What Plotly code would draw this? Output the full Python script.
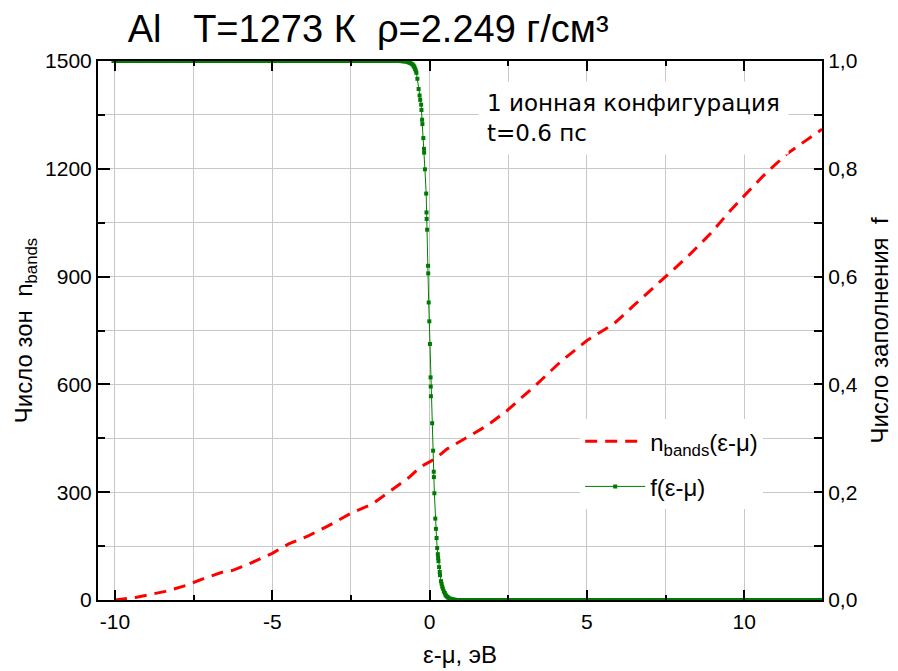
import plotly.graph_objects as go

# ---- data ----
# cumulative number of bands n_bands(eps - mu)
e_nbands = [-10.0, -9.35, -8.4, -7.76, -7.23, -6.6, -6.28, -5.75, -5.0, -4.48, -3.84, -3.21,
            -2.51, -1.83, -1.3, -0.67, -0.3, 0.0, 0.18, 0.55, 1.29, 1.82, 2.46, 3.41, 4.15,
            5.0, 5.42, 5.85, 6.48, 7.51, 8.18, 8.92, 9.56, 10.01, 10.61, 11.36, 12.36, 12.47]
n_bands = [0, 7, 24, 40, 58, 77, 82, 100, 130, 156, 179, 207,
           241, 267, 300, 340, 370, 385, 393, 420, 457, 485, 527, 601, 662,
           722, 745, 768, 819, 901, 954, 1019, 1084, 1126, 1181, 1242, 1305, 1310]

# occupation numbers f(eps - mu): plateau levels below mu (f = 1)
e_f_low = [-10.05, -9.95, -9.85, -9.75, -9.65, -9.55, -9.45, -9.35, -9.25, -9.15,
           -9.05, -8.95, -8.85, -8.75, -8.65, -8.55, -8.45, -8.35, -8.25, -8.15,
           -8.05, -7.95, -7.85, -7.75, -7.65, -7.55, -7.45, -7.35, -7.25, -7.15,
           -7.05, -6.95, -6.85, -6.75, -6.65, -6.55, -6.45, -6.35, -6.25, -6.15,
           -6.05, -5.95, -5.85, -5.75, -5.65, -5.55, -5.45, -5.35, -5.25, -5.15,
           -5.05, -4.95, -4.85, -4.75, -4.65, -4.55, -4.45, -4.35, -4.25, -4.15,
           -4.05, -3.95, -3.85, -3.75, -3.65, -3.55, -3.45, -3.35, -3.25, -3.15,
           -3.05, -2.95, -2.85, -2.75, -2.65, -2.55, -2.45, -2.35, -2.25, -2.15,
           -2.05, -1.95, -1.85, -1.75, -1.65, -1.55, -1.45, -1.35, -1.25, -1.15,
           -1.05, -0.95]
# levels in the Fermi step
e_f_step = [-0.90, -0.85, -0.80, -0.75, -0.70, -0.65, -0.62, -0.58, -0.55, -0.52, -0.50,
            -0.48, -0.46, -0.44, -0.42, -0.39, -0.35, -0.32, -0.30, -0.27, -0.26, -0.24,
            -0.23, -0.20, -0.18, -0.175, -0.15, -0.11, -0.10, -0.095, -0.08, -0.05, -0.045,
            -0.03, -0.01, 0.01, 0.03, 0.035, 0.04, 0.08, 0.11, 0.13, 0.135, 0.15, 0.18,
            0.20, 0.22, 0.24, 0.26, 0.27, 0.28, 0.30, 0.32, 0.33, 0.36, 0.38, 0.40, 0.42,
            0.45, 0.48, 0.50, 0.52, 0.55, 0.58, 0.60, 0.65, 0.68, 0.70, 0.75, 0.80]
f_step = [0.9997, 0.9995, 0.9993, 0.999, 0.998, 0.997, 0.9965, 0.995, 0.994, 0.992, 0.990,
          0.988, 0.985, 0.982, 0.978, 0.967, 0.948, 0.936, 0.928, 0.919, 0.909, 0.891,
          0.883, 0.857, 0.837, 0.830, 0.799, 0.754, 0.719, 0.707, 0.687, 0.620, 0.606,
          0.552, 0.517, 0.475, 0.413, 0.396, 0.378, 0.328, 0.277, 0.238, 0.228, 0.198, 0.151,
          0.132, 0.115, 0.0965, 0.085, 0.078, 0.072, 0.061, 0.052, 0.046, 0.035, 0.030, 0.025, 0.021,
          0.016, 0.013, 0.010, 0.008, 0.0065, 0.005, 0.004, 0.0026, 0.002, 0.0017, 0.001, 0.0007]
# plateau levels above mu (f = 0)
e_f_high = [0.85, 0.95, 1.05, 1.15, 1.25, 1.35, 1.45, 1.55, 1.65, 1.75, 1.85, 1.95,
            2.05, 2.15, 2.25, 2.35, 2.45, 2.55, 2.65, 2.75, 2.85, 2.95,
            3.05, 3.15, 3.25, 3.35, 3.45, 3.55, 3.65, 3.75, 3.85, 3.95,
            4.05, 4.15, 4.25, 4.35, 4.45, 4.55, 4.65, 4.75, 4.85, 4.95,
            5.05, 5.15, 5.25, 5.35, 5.45, 5.55, 5.65, 5.75, 5.85, 5.95,
            6.05, 6.15, 6.25, 6.35, 6.45, 6.55, 6.65, 6.75, 6.85, 6.95,
            7.05, 7.15, 7.25, 7.35, 7.45, 7.55, 7.65, 7.75, 7.85, 7.95,
            8.05, 8.15, 8.25, 8.35, 8.45, 8.55, 8.65, 8.75, 8.85, 8.95,
            9.05, 9.15, 9.25, 9.35, 9.45, 9.55, 9.65, 9.75, 9.85, 9.95,
            10.05, 10.15, 10.25, 10.35, 10.45, 10.55, 10.65, 10.75, 10.85, 10.95,
            11.05, 11.15, 11.25, 11.35, 11.45, 11.55, 11.65, 11.75, 11.85, 11.95,
            12.05, 12.15, 12.25, 12.35, 12.45]

x_ticks = [-10, -5, 0, 5, 10]
x_tick_labels = ["-10", "-5", "0", "5", "10"]
y_ticks = [0, 300, 600, 900, 1200, 1500]
f_ticks = [0.0, 0.2, 0.4, 0.6, 0.8, 1.0]
f_tick_labels = ["0,0", "0,2", "0,4", "0,6", "0,8", "1,0"]

e_f = e_f_low + e_f_step + e_f_high
f_occ = [1.0] * len(e_f_low) + f_step + [0.0] * len(e_f_high)

ARIAL = "Liberation Sans, Arial, sans-serif"
GRID = "#c8c8c8"

fig = go.Figure()
fig.add_trace(go.Scatter(
    x=e_nbands, y=n_bands, name="n<sub>bands</sub>(ε-μ)", mode="lines",
    line=dict(color="#ff0000", width=3, dash="12px,8px"), yaxis="y",
    legendgroup="a"))
fig.add_trace(go.Scatter(
    x=e_f, y=f_occ, name="f(ε-μ)", mode="lines+markers",
    line=dict(color="#008000", width=1),
    marker=dict(symbol="square", size=4, color="#007a00", line=dict(width=0)),
    yaxis="y2", legendgroup="b"))

fig.update_layout(
    width=898, height=671,
    margin=dict(l=90, r=84, t=53, b=79, autoexpand=False),
    paper_bgcolor="white", plot_bgcolor="white",
    font=dict(family=ARIAL, size=21, color="black"),
    title=dict(text="Al\u00a0\u00a0\u00a0T=1273 К\u00a0\u00a0ρ=2.249 г/см³",
               font=dict(family=ARIAL, size=38, color="black"),
               x=0.041, xref="paper", xanchor="left",
               y=0.969, yref="container", yanchor="middle"),
    showlegend=True,
    legend=dict(x=0.666, xanchor="left", y=0.3356, yanchor="top",
                bgcolor="white", borderwidth=0, font=dict(family=ARIAL, size=24),
                itemwidth=60, tracegroupgap=11, traceorder="grouped"),
    xaxis=dict(range=[-10.54, 12.47], tickvals=x_ticks, ticktext=x_tick_labels,
               ticks="inside", ticklen=10, automargin=False,
               tickwidth=2, tickcolor="black", showline=True, linewidth=2, linecolor="black",
               mirror="ticks", showgrid=True, gridcolor=GRID, gridwidth=1, zeroline=False,
               tickfont=dict(size=21), ticklabelstandoff=2,
               minor=dict(dtick=2.5, ticks="inside", ticklen=5, tickwidth=2,
                          tickcolor="black", showgrid=True, gridcolor=GRID, gridwidth=1),
               title=dict(text="ε-μ, эВ", font=dict(size=24), standoff=14)),
    yaxis=dict(range=[0, 1500], tickvals=y_ticks, ticks="inside", ticklen=12, automargin=False,
               tickwidth=2, tickcolor="black", showline=True, linewidth=2, linecolor="black",
               showgrid=True, gridcolor=GRID, gridwidth=1, zeroline=False,
               tickfont=dict(size=21),
               minor=dict(dtick=150, ticks="inside", ticklen=7, tickwidth=2,
                          tickcolor="black", showgrid=True, gridcolor=GRID, gridwidth=1),
               title=dict(text="Число зон\u00a0\u00a0n<sub>bands</sub>", font=dict(size=24),
                          standoff=6)),
    yaxis2=dict(range=[0, 1], overlaying="y", side="right", tickvals=f_ticks, automargin=False,
                ticktext=f_tick_labels, ticks="inside", ticklen=8, tickwidth=2,
                tickcolor="black", showline=True, linewidth=2, linecolor="black",
                showgrid=False, zeroline=False, tickfont=dict(size=21),
                minor=dict(dtick=0.1, ticks="inside", ticklen=8, tickwidth=2,
                           tickcolor="black", showgrid=False),
                title=dict(text="Число заполнения\u00a0\u00a0f", font=dict(size=24),
                           standoff=14)),
    annotations=[dict(text="1 ионная конфигурация<br>t=0.6 пс", xref="paper", yref="paper",
                      x=0.5249, y=0.9634, xanchor="left", yanchor="top", align="left",
                      showarrow=False, bgcolor="white", borderpad=8,
                      font=dict(family="DejaVu Sans, sans-serif", size=23, color="black"))],
)

fig.write_html("out.html")
